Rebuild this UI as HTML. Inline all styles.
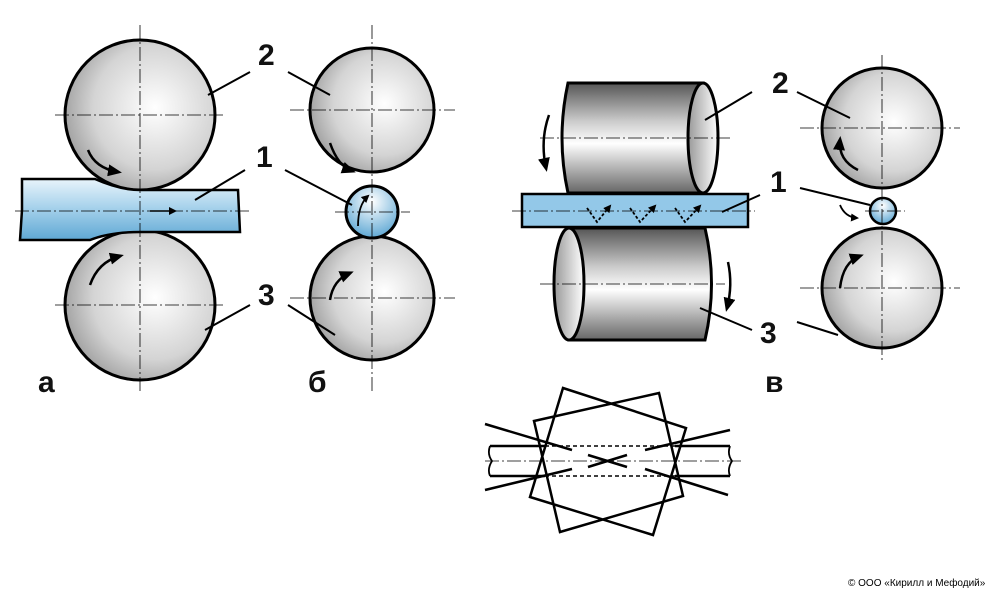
<!DOCTYPE html>
<html><head><meta charset="utf-8"><style>body{margin:0;background:#fff}svg{display:block}</style></head><body>
<svg width="1000" height="593" viewBox="0 0 1000 593" xmlns="http://www.w3.org/2000/svg" font-family="Liberation Sans, sans-serif">
<defs>
<radialGradient id="rg" cx="0.6" cy="0.45" r="0.75"><stop offset="0" stop-color="#fff"/><stop offset="0.55" stop-color="#d4d4d4"/><stop offset="1" stop-color="#808080"/></radialGradient>
<linearGradient id="cyl" x1="0" y1="0" x2="0" y2="1"><stop offset="0" stop-color="#555"/><stop offset="0.35" stop-color="#ccc"/><stop offset="0.55" stop-color="#fff"/><stop offset="1" stop-color="#666"/></linearGradient>
<linearGradient id="end" x1="0" y1="0" x2="1" y2="0"><stop offset="0" stop-color="#999"/><stop offset="1" stop-color="#fff"/></linearGradient>
<linearGradient id="blue" x1="0" y1="0" x2="0" y2="1"><stop offset="0" stop-color="#e8f4fb"/><stop offset="0.45" stop-color="#a9d3ec"/><stop offset="1" stop-color="#5fa8d4"/></linearGradient>
<radialGradient id="bb" cx="0.5" cy="0.3" r="0.7"><stop offset="0" stop-color="#fff"/><stop offset="1" stop-color="#5fa8d4"/></radialGradient>
<marker id="ah" markerWidth="8" markerHeight="8" refX="6" refY="4" orient="auto" markerUnits="userSpaceOnUse"><path d="M0,0 L8,4 L0,8 Z" fill="#000"/></marker>
<marker id="ah2" markerWidth="14" markerHeight="12" refX="10" refY="6" orient="auto" markerUnits="userSpaceOnUse"><path d="M0,0 L14,6 L0,12 Z" fill="#000"/></marker>
</defs>
<g stroke="#000" stroke-width="3">
<circle cx="140" cy="115" r="75" fill="url(#rg)"/>
<circle cx="140" cy="305" r="75" fill="url(#rg)"/>
<path d="M22,179 L95,179 Q120,190 140,190 L238,190 L240,232 L140,232 Q110,232 90,240 L20,240 L22,210 Z" fill="url(#blue)" stroke-width="2.5"/>
<circle cx="372" cy="110" r="62" fill="url(#rg)"/>
<circle cx="372" cy="298" r="62" fill="url(#rg)"/>
<circle cx="372" cy="212" r="26" fill="url(#bb)"/>
<path d="M568,83 L703,83 L703,193 L568,193 Q556,138 568,83 Z" fill="url(#cyl)"/>
<ellipse cx="703" cy="138" rx="15" ry="55" fill="url(#end)"/>
<path d="M569,228 L705,228 Q718,284 705,340 L569,340 Z" fill="url(#cyl)"/>
<ellipse cx="569" cy="284" rx="15" ry="56" fill="url(#end)"/>
<rect x="522" y="194" width="226" height="33" fill="#93c8e8" stroke-width="2.5"/>
<circle cx="882" cy="128" r="60" fill="url(#rg)"/>
<circle cx="882" cy="288" r="60" fill="url(#rg)"/>
<circle cx="883" cy="211" r="13" fill="url(#bb)" stroke-width="2.5"/>
</g>
<g stroke="#000" stroke-width="0.8" stroke-dasharray="14,3,2,3" fill="none">
<path d="M140,25V392 M55,115H225 M55,305H225 M15,211H250"/>
<path d="M372,25V392 M290,110H455 M290,298H455 M335,212H410"/>
<path d="M540,138H730 M540,284H725 M512,211H755"/>
<path d="M882,55V362 M800,128H960 M800,288H960 M865,211H905"/>
</g>
<g stroke="#000" stroke-width="2.5" fill="none">
<path d="M88,150 Q95,168 118,172" marker-end="url(#ah2)"/>
<path d="M90,285 Q98,262 120,256" marker-end="url(#ah2)"/>
<path d="M330,143 Q338,166 352,171" marker-end="url(#ah2)"/>
<path d="M330,300 Q333,280 350,273" marker-end="url(#ah2)"/>
<path d="M358,226 Q358,205 368,196" marker-end="url(#ah)" stroke-width="1.8"/>
<path d="M549,115 Q540,140 546,168" marker-end="url(#ah2)"/>
<path d="M728,262 Q733,285 727,308" marker-end="url(#ah2)"/>
<path d="M858,170 Q838,160 840,140" marker-end="url(#ah2)"/>
<path d="M840,288 Q843,262 860,256" marker-end="url(#ah2)"/>
<path d="M840,205 Q845,217 857,218" marker-end="url(#ah)" stroke-width="1.8"/>
<path d="M150,211H175" marker-end="url(#ah)" stroke-width="1.5"/>
<g stroke-dasharray="3,2" stroke-width="1.8">
<path d="M587,208 L597,222 L610,206" marker-end="url(#ah)"/>
<path d="M630,208 L640,222 L655,206" marker-end="url(#ah)"/>
<path d="M675,208 L685,222 L700,206" marker-end="url(#ah)"/>
</g>
</g>
<g stroke="#000" stroke-width="2">
<path d="M208,95 L250,72 M288,72 L330,95"/>
<path d="M195,200 L245,170 M285,170 L352,205"/>
<path d="M205,330 L250,305 M288,305 L335,335"/>
<path d="M705,120 L752,92 M797,92 L850,118"/>
<path d="M722,212 L760,195 M800,188 L870,205"/>
<path d="M700,308 L752,330 M797,322 L838,335"/>
</g>
<g font-weight="bold" font-size="30" fill="#111">
<text x="258" y="65">2</text><text x="256" y="167">1</text><text x="258" y="305">3</text>
<text x="38" y="392">а</text><text x="308" y="392">б</text>
<text x="772" y="93">2</text><text x="770" y="192">1</text><text x="760" y="343">3</text>
<text x="765" y="392">в</text>
</g>
<g stroke="#000" stroke-width="2.5" fill="none">
<path d="M490,446 H545 M490,476 H545 M675,446 H730 M675,476 H730" />
<path d="M490,446 q-3,8 2,15 q-5,8 -2,15 M730,446 q-3,8 2,15 q-5,8 -2,15" stroke-width="1.8"/>
<path d="M563,388 L686,428 L653,535 L530,497 Z M534,421 L659,393 L683,496 L560,532 Z"/>
<path d="M485,424 L572,450 M485,490 L572,469 M645,450 L730,430 M645,469 L728,495"/>
<path d="M588,455 L627,467 M588,467 L627,455"/>
</g>
<g stroke="#000" stroke-width="1.5" stroke-dasharray="4,3" fill="none">
<path d="M545,446 H675 M545,476 H675"/>
</g>
<path d="M485,461 H742" stroke="#000" stroke-width="0.8" stroke-dasharray="14,3,2,3"/>
<text x="848" y="586" font-size="10" fill="#000">© ООО «Кирилл и Мефодий»</text>
</svg>
</body></html>
